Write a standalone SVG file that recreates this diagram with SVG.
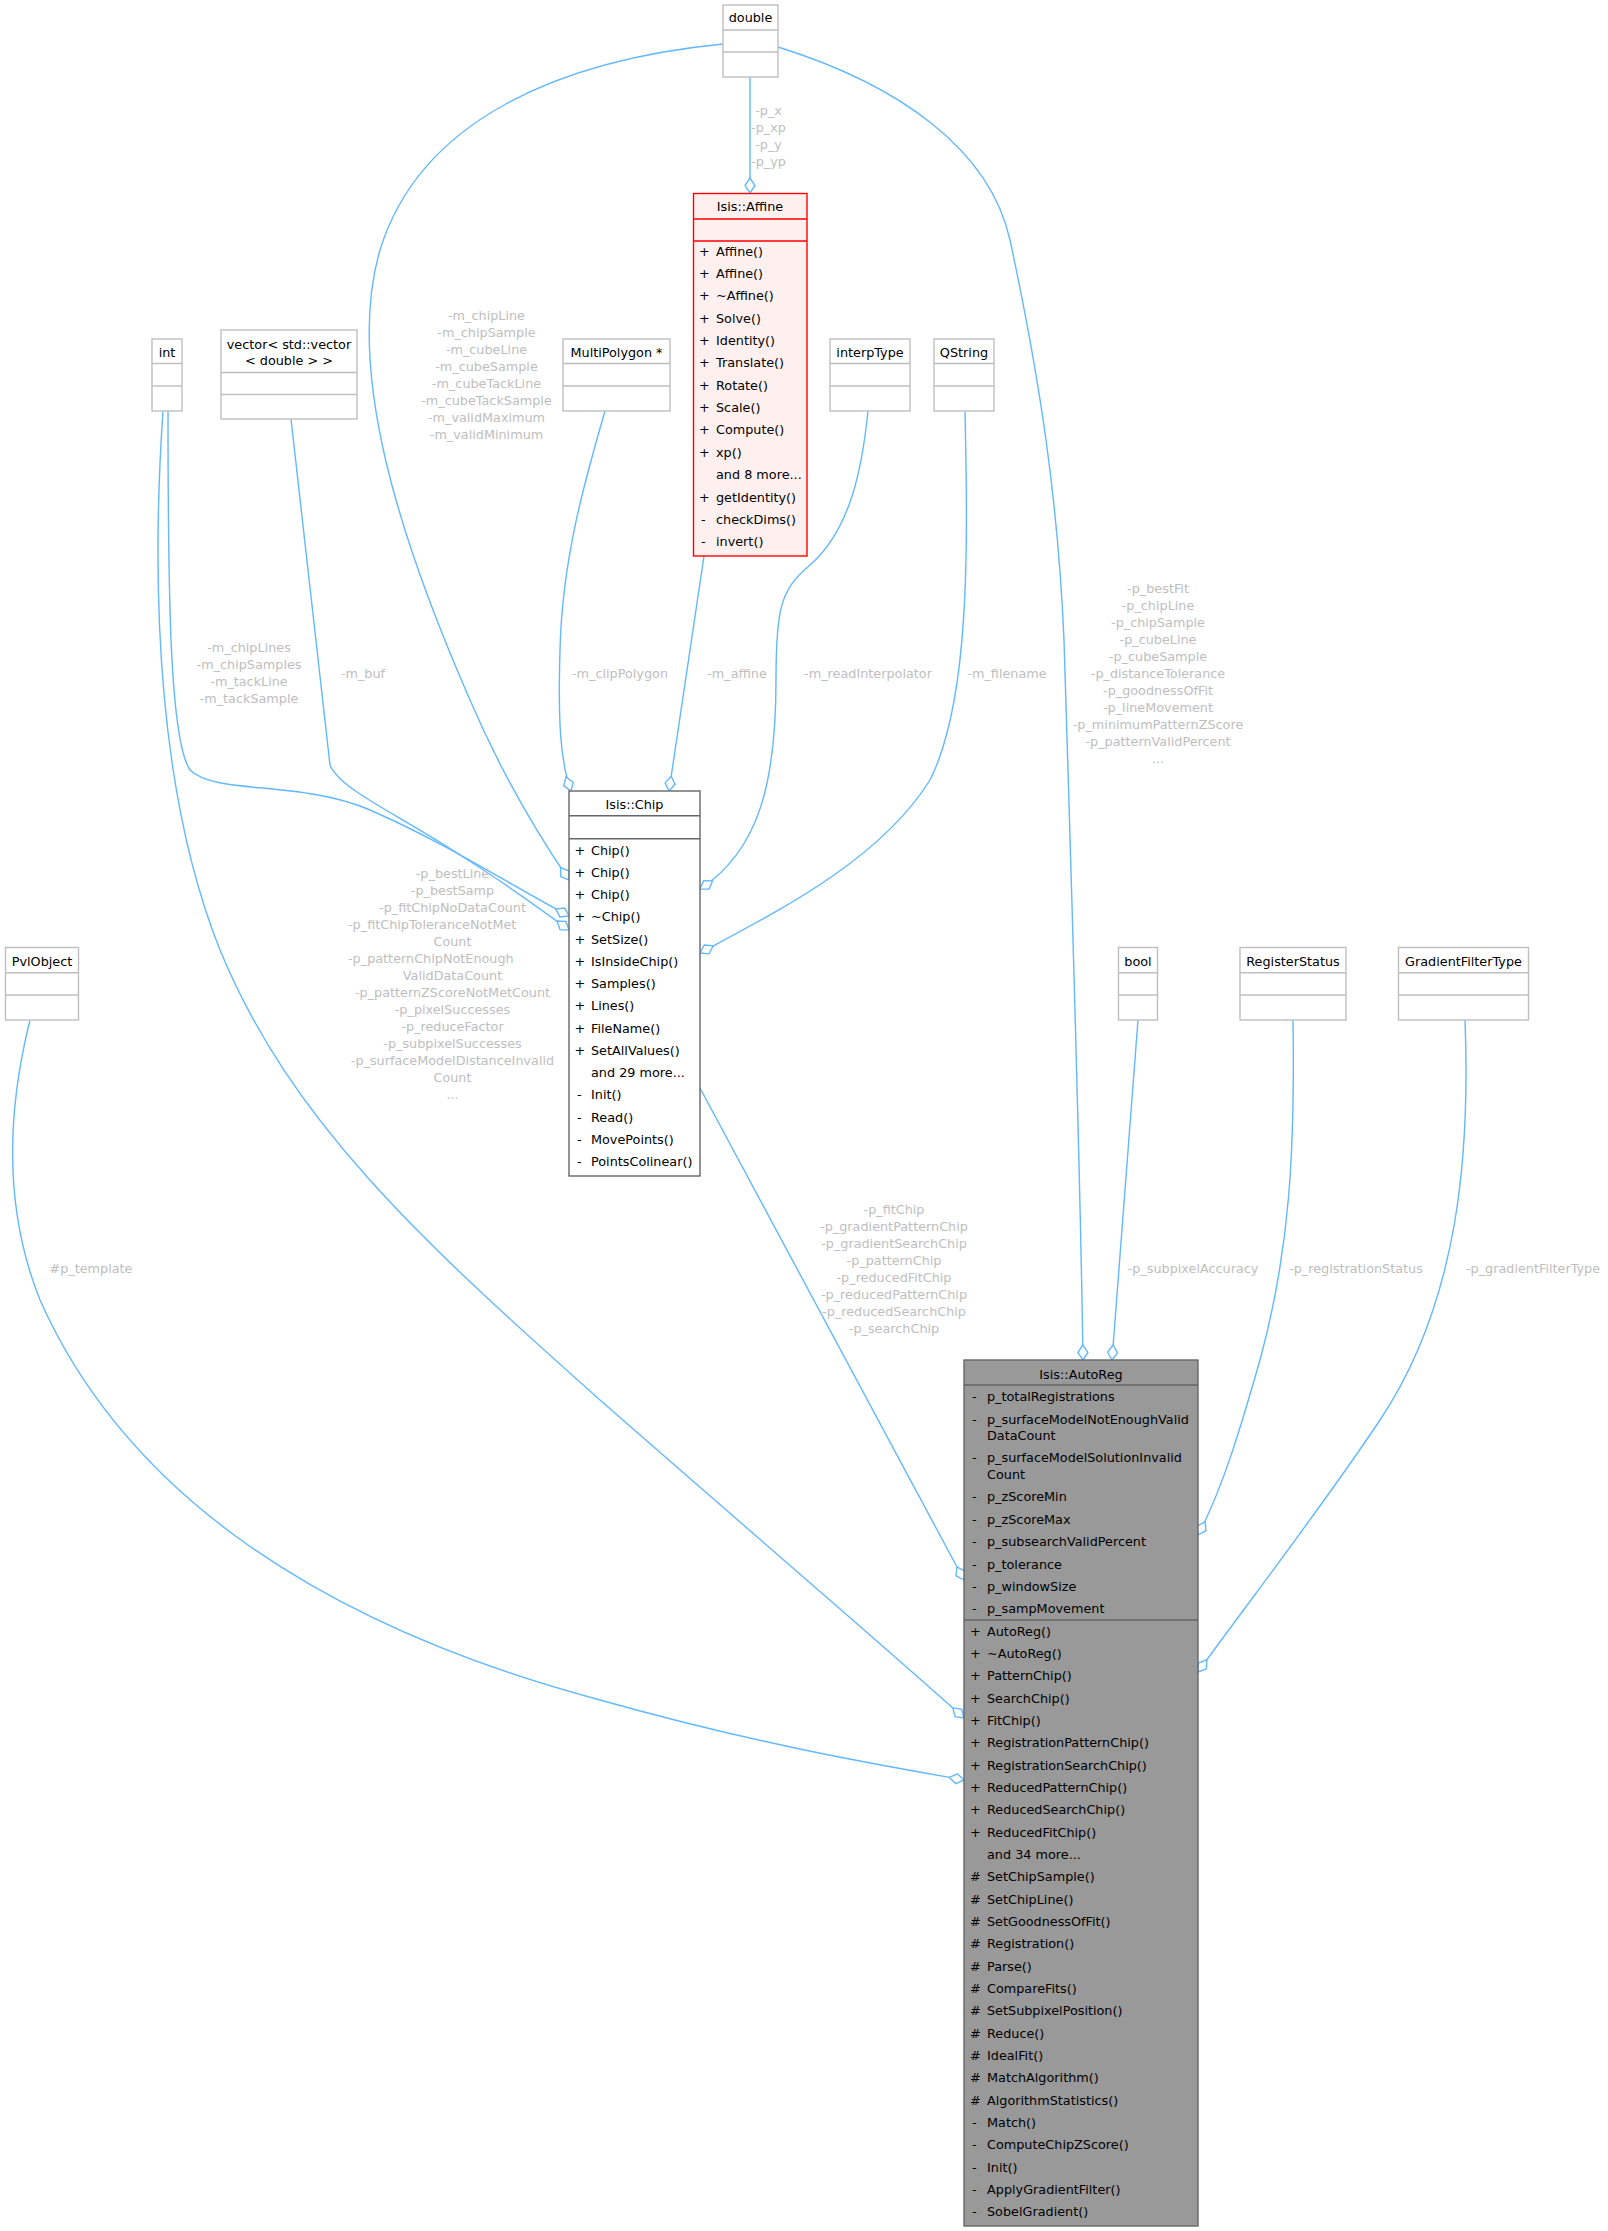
<svg xmlns="http://www.w3.org/2000/svg" width="1608" height="2231" viewBox="0 0 1608 2231">
<style>
text{font-family:"DejaVu Sans","Liberation Sans",sans-serif;font-size:12.8px;fill:#000}
.c{text-anchor:middle}
.lbl{fill:#BEBEBE;text-anchor:middle}
.lbs{fill:#BEBEBE}
.box{fill:#fff;stroke:#BFBFBF;stroke-width:1.4}
.sep{stroke:#BFBFBF;stroke-width:1.4}
.e{fill:none;stroke:#63B8FF;stroke-width:1.4;marker-end:url(#dia)}
</style>
<defs>
<marker id="dia" markerUnits="userSpaceOnUse" markerWidth="20" markerHeight="14" viewBox="-16 -7 18 14" refX="0" refY="0" orient="auto" overflow="visible">
<path d="M0,0 L-7.5,-5 L-15,0 L-7.5,5 Z" fill="#fff" stroke="#63B8FF" stroke-width="1.4"/>
</marker>
</defs>
<rect width="1608" height="2231" fill="#fff"/>

<g id="edges">
<path class="e" d="M750,77 L750,193"/>
<path class="e" d="M723,44 C560,60 420,120 380,250 C345,370 400,540 470,700 C500,770 535,830 569,880"/>
<path class="e" d="M778,47 C900,85 990,150 1010,240 C1040,380 1058,500 1064,640 C1072,900 1080,1150 1083,1360"/>
<path class="e" d="M168,411 C168,600 170,740 190,770 C215,795 300,780 370,810 C450,845 510,885 569,916"/>
<path class="e" d="M163,411 C150,600 160,800 220,950 C290,1120 420,1240 600,1400 C760,1540 900,1660 964,1718"/>
<path class="e" d="M291,419 L330,765 C340,790 400,815 460,855 C500,880 535,905 569,930"/>
<path class="e" d="M605,411 C585,480 562,560 560,650 C558,720 560,760 571,791"/>
<path class="e" d="M704,556 L669,791"/>
<path class="e" d="M868,411 C862,470 850,530 810,565 C780,590 776,610 776,680 C776,780 760,850 700,889"/>
<path class="e" d="M965,411 C968,550 970,700 930,780 C880,860 780,910 700,953"/>
<path class="e" d="M700,1088 L964,1580"/>
<path class="e" d="M1138,1020 L1112,1360"/>
<path class="e" d="M1293,1020 C1295,1150 1290,1250 1260,1360 C1240,1430 1222,1490 1198,1535"/>
<path class="e" d="M1465,1020 C1470,1150 1460,1300 1380,1420 C1320,1510 1250,1600 1198,1672"/>
<path class="e" d="M30,1020 C10,1100 0,1200 40,1300 C120,1480 300,1620 600,1700 C760,1745 880,1765 964,1780"/>

<g id="edge-labels">
<text class="lbl" x="768.5" y="115">-p_x</text>
<text class="lbl" x="768.5" y="132">-p_xp</text>
<text class="lbl" x="768.5" y="149">-p_y</text>
<text class="lbl" x="768.5" y="166">-p_yp</text>

<text class="lbl" x="486.5" y="319.5">-m_chipLine</text>
<text class="lbl" x="486.5" y="336.5">-m_chipSample</text>
<text class="lbl" x="486.5" y="353.5">-m_cubeLine</text>
<text class="lbl" x="486.5" y="370.5">-m_cubeSample</text>
<text class="lbl" x="486.5" y="387.5">-m_cubeTackLine</text>
<text class="lbl" x="486.5" y="404.5">-m_cubeTackSample</text>
<text class="lbl" x="486.5" y="421.5">-m_validMaximum</text>
<text class="lbl" x="486.5" y="438.5">-m_validMinimum</text>

<text class="lbl" x="249" y="651.5">-m_chipLines</text>
<text class="lbl" x="249" y="668.5">-m_chipSamples</text>
<text class="lbl" x="249" y="685.5">-m_tackLine</text>
<text class="lbl" x="249" y="702.5">-m_tackSample</text>

<text class="lbl" x="363" y="677.5">-m_buf</text>
<text class="lbl" x="620" y="677.5">-m_clipPolygon</text>
<text class="lbl" x="737" y="677.5">-m_affine</text>
<text class="lbl" x="868" y="677.5">-m_readInterpolator</text>
<text class="lbl" x="1007" y="677.5">-m_filename</text>

<text class="lbl" x="1158" y="592.5">-p_bestFit</text>
<text class="lbl" x="1158" y="609.5">-p_chipLine</text>
<text class="lbl" x="1158" y="626.5">-p_chipSample</text>
<text class="lbl" x="1158" y="643.5">-p_cubeLine</text>
<text class="lbl" x="1158" y="660.5">-p_cubeSample</text>
<text class="lbl" x="1158" y="677.5">-p_distanceTolerance</text>
<text class="lbl" x="1158" y="694.5">-p_goodnessOfFit</text>
<text class="lbl" x="1158" y="711.5">-p_lineMovement</text>
<text class="lbl" x="1158" y="728.5">-p_minimumPatternZScore</text>
<text class="lbl" x="1158" y="745.5">-p_patternValidPercent</text>
<text class="lbl" x="1158" y="762.5">...</text>

<text class="lbl" x="452.5" y="877.5">-p_bestLine</text>
<text class="lbl" x="452.5" y="894.5">-p_bestSamp</text>
<text class="lbl" x="452.5" y="911.5">-p_fitChipNoDataCount</text>
<text class="lbs" x="348" y="928.5">-p_fitChipToleranceNotMet</text>
<text class="lbl" x="452.5" y="945.5">Count</text>
<text class="lbs" x="348" y="962.5">-p_patternChipNotEnough</text>
<text class="lbl" x="452.5" y="979.5">ValidDataCount</text>
<text class="lbl" x="452.5" y="996.5">-p_patternZScoreNotMetCount</text>
<text class="lbl" x="452.5" y="1013.5">-p_pixelSuccesses</text>
<text class="lbl" x="452.5" y="1030.5">-p_reduceFactor</text>
<text class="lbl" x="452.5" y="1047.5">-p_subpixelSuccesses</text>
<text class="lbl" x="452.5" y="1064.5">-p_surfaceModelDistanceInvalid</text>
<text class="lbl" x="452.5" y="1081.5">Count</text>
<text class="lbl" x="452.5" y="1098.5">...</text>

<text class="lbl" x="894" y="1213.5">-p_fitChip</text>
<text class="lbl" x="894" y="1230.5">-p_gradientPatternChip</text>
<text class="lbl" x="894" y="1247.5">-p_gradientSearchChip</text>
<text class="lbl" x="894" y="1264.5">-p_patternChip</text>
<text class="lbl" x="894" y="1281.5">-p_reducedFitChip</text>
<text class="lbl" x="894" y="1298.5">-p_reducedPatternChip</text>
<text class="lbl" x="894" y="1315.5">-p_reducedSearchChip</text>
<text class="lbl" x="894" y="1332.5">-p_searchChip</text>

<text class="lbl" x="91" y="1272.5">#p_template</text>
<text class="lbl" x="1193" y="1272.5">-p_subpixelAccuracy</text>
<text class="lbl" x="1356" y="1272.5">-p_registrationStatus</text>
<text class="lbl" x="1533" y="1272.5">-p_gradientFilterType</text>
</g>
</g>

<g id="node-double">
<rect class="box" x="723" y="5" width="55" height="72"/>
<line class="sep" x1="723" y1="30" x2="778" y2="30"/>
<line class="sep" x1="723" y1="52" x2="778" y2="52"/>
<text class="c" x="750.5" y="22">double</text>
</g>

<g id="node-int">
<rect class="box" x="152" y="339" width="30" height="72"/>
<line class="sep" x1="152" y1="363.5" x2="182" y2="363.5"/>
<line class="sep" x1="152" y1="386" x2="182" y2="386"/>
<text class="c" x="167" y="357">int</text>
</g>

<g id="node-vector">
<rect class="box" x="221" y="330" width="136" height="89"/>
<line class="sep" x1="221" y1="372.5" x2="357" y2="372.5"/>
<line class="sep" x1="221" y1="394.5" x2="357" y2="394.5"/>
<text class="c" x="289" y="348.5">vector&lt; std::vector</text>
<text class="c" x="289" y="365">&lt; double &gt; &gt;</text>
</g>

<g id="node-multipolygon">
<rect class="box" x="563" y="339" width="107" height="72"/>
<line class="sep" x1="563" y1="363.5" x2="670" y2="363.5"/>
<line class="sep" x1="563" y1="386" x2="670" y2="386"/>
<text class="c" x="616.5" y="357">MultiPolygon *</text>
</g>

<g id="node-interptype">
<rect class="box" x="830" y="339" width="80" height="72"/>
<line class="sep" x1="830" y1="363.5" x2="910" y2="363.5"/>
<line class="sep" x1="830" y1="386" x2="910" y2="386"/>
<text class="c" x="870" y="357">interpType</text>
</g>

<g id="node-qstring">
<rect class="box" x="934" y="339" width="60" height="72"/>
<line class="sep" x1="934" y1="363.5" x2="994" y2="363.5"/>
<line class="sep" x1="934" y1="386" x2="994" y2="386"/>
<text class="c" x="964" y="357">QString</text>
</g>

<g id="node-affine">
<rect x="693.5" y="193.5" width="113.5" height="362.5" fill="#FFF0F0" stroke="#FF0000" stroke-width="1.4"/>
<line x1="693.5" y1="219" x2="807" y2="219" stroke="#FF0000" stroke-width="1.4"/>
<line x1="693.5" y1="241" x2="807" y2="241" stroke="#FF0000" stroke-width="1.4"/>
<text class="c" x="750" y="211">Isis::Affine</text>
<g>
<text x="699" y="255.5">+</text><text x="716" y="255.5">Affine()</text>
<text x="699" y="277.9">+</text><text x="716" y="277.9">Affine()</text>
<text x="699" y="300.2">+</text><text x="716" y="300.2">~Affine()</text>
<text x="699" y="322.6">+</text><text x="716" y="322.6">Solve()</text>
<text x="699" y="344.9">+</text><text x="716" y="344.9">Identity()</text>
<text x="699" y="367.3">+</text><text x="716" y="367.3">Translate()</text>
<text x="699" y="389.7">+</text><text x="716" y="389.7">Rotate()</text>
<text x="699" y="412">+</text><text x="716" y="412">Scale()</text>
<text x="699" y="434.4">+</text><text x="716" y="434.4">Compute()</text>
<text x="699" y="456.7">+</text><text x="716" y="456.7">xp()</text>
<text x="716" y="479.1">and 8 more...</text>
<text x="699" y="501.5">+</text><text x="716" y="501.5">getIdentity()</text>
<text x="701" y="523.8">-</text><text x="716" y="523.8">checkDims()</text>
<text x="701" y="546.2">-</text><text x="716" y="546.2">invert()</text>
</g>
</g>

<g id="node-chip">
<rect x="569" y="791" width="131" height="385" fill="#fff" stroke="#666666" stroke-width="1.4"/>
<line x1="569" y1="815.7" x2="700" y2="815.7" stroke="#666666" stroke-width="1.4"/>
<line x1="569" y1="838.7" x2="700" y2="838.7" stroke="#666666" stroke-width="1.4"/>
<text class="c" x="634.5" y="808.8">Isis::Chip</text>
<text x="574.5" y="854.5">+</text><text x="591" y="854.5">Chip()</text>
<text x="574.5" y="876.8">+</text><text x="591" y="876.8">Chip()</text>
<text x="574.5" y="899">+</text><text x="591" y="899">Chip()</text>
<text x="574.5" y="921.3">+</text><text x="591" y="921.3">~Chip()</text>
<text x="574.5" y="943.5">+</text><text x="591" y="943.5">SetSize()</text>
<text x="574.5" y="965.8">+</text><text x="591" y="965.8">IsInsideChip()</text>
<text x="574.5" y="988.1">+</text><text x="591" y="988.1">Samples()</text>
<text x="574.5" y="1010.3">+</text><text x="591" y="1010.3">Lines()</text>
<text x="574.5" y="1032.6">+</text><text x="591" y="1032.6">FileName()</text>
<text x="574.5" y="1054.8">+</text><text x="591" y="1054.8">SetAllValues()</text>
<text x="591" y="1077.1">and 29 more...</text>
<text x="577" y="1099.4">-</text><text x="591" y="1099.4">Init()</text>
<text x="577" y="1121.6">-</text><text x="591" y="1121.6">Read()</text>
<text x="577" y="1143.9">-</text><text x="591" y="1143.9">MovePoints()</text>
<text x="577" y="1166.2">-</text><text x="591" y="1166.2">PointsColinear()</text>
</g>

<g id="node-pvlobject">
<rect class="box" x="5.5" y="947.5" width="73" height="72.5"/>
<line class="sep" x1="5.5" y1="972.7" x2="78.5" y2="972.7"/>
<line class="sep" x1="5.5" y1="995" x2="78.5" y2="995"/>
<text class="c" x="42" y="965.5">PvlObject</text>
</g>

<g id="node-bool">
<rect class="box" x="1118.5" y="947.5" width="39" height="72.5"/>
<line class="sep" x1="1118.5" y1="972.7" x2="1157.5" y2="972.7"/>
<line class="sep" x1="1118.5" y1="995" x2="1157.5" y2="995"/>
<text class="c" x="1138" y="965.5">bool</text>
</g>

<g id="node-registerstatus">
<rect class="box" x="1240" y="947.5" width="106" height="72.5"/>
<line class="sep" x1="1240" y1="972.7" x2="1346" y2="972.7"/>
<line class="sep" x1="1240" y1="995" x2="1346" y2="995"/>
<text class="c" x="1293" y="965.5">RegisterStatus</text>
</g>

<g id="node-gradientfiltertype">
<rect class="box" x="1398.5" y="947.5" width="130" height="72.5"/>
<line class="sep" x1="1398.5" y1="972.7" x2="1528.5" y2="972.7"/>
<line class="sep" x1="1398.5" y1="995" x2="1528.5" y2="995"/>
<text class="c" x="1463.5" y="965.5">GradientFilterType</text>
</g>

<g id="node-autoreg">
<rect x="964" y="1360" width="234" height="866" fill="#999999" stroke="#666666" stroke-width="1.4"/>
<line x1="964" y1="1385" x2="1198" y2="1385" stroke="#666666" stroke-width="1.4"/>
<line x1="964" y1="1620" x2="1198" y2="1620" stroke="#666666" stroke-width="1.4"/>
<text class="c" x="1081" y="1378.5">Isis::AutoReg</text>
<text x="972" y="1400.5">-</text><text x="987" y="1400.5">p_totalRegistrations</text>
<text x="972" y="1423.5">-</text><text x="987" y="1423.5">p_surfaceModelNotEnoughValid</text>
<text x="987" y="1440.2">DataCount</text>
<text x="972" y="1462.2">-</text><text x="987" y="1462.2">p_surfaceModelSolutionInvalid</text>
<text x="987" y="1479.2">Count</text>
<text x="972" y="1501.2">-</text><text x="987" y="1501.2">p_zScoreMin</text>
<text x="972" y="1523.8">-</text><text x="987" y="1523.8">p_zScoreMax</text>
<text x="972" y="1546.2">-</text><text x="987" y="1546.2">p_subsearchValidPercent</text>
<text x="972" y="1568.5">-</text><text x="987" y="1568.5">p_tolerance</text>
<text x="972" y="1590.8">-</text><text x="987" y="1590.8">p_windowSize</text>
<text x="972" y="1613.2">-</text><text x="987" y="1613.2">p_sampMovement</text>
<text x="970" y="1635.5">+</text><text x="987" y="1635.5">AutoReg()</text>
<text x="970" y="1657.8">+</text><text x="987" y="1657.8">~AutoReg()</text>
<text x="970" y="1680.2">+</text><text x="987" y="1680.2">PatternChip()</text>
<text x="970" y="1702.5">+</text><text x="987" y="1702.5">SearchChip()</text>
<text x="970" y="1724.8">+</text><text x="987" y="1724.8">FitChip()</text>
<text x="970" y="1747.2">+</text><text x="987" y="1747.2">RegistrationPatternChip()</text>
<text x="970" y="1769.5">+</text><text x="987" y="1769.5">RegistrationSearchChip()</text>
<text x="970" y="1791.8">+</text><text x="987" y="1791.8">ReducedPatternChip()</text>
<text x="970" y="1814.1">+</text><text x="987" y="1814.1">ReducedSearchChip()</text>
<text x="970" y="1836.5">+</text><text x="987" y="1836.5">ReducedFitChip()</text>
<text x="987" y="1858.8">and 34 more...</text>
<text x="970" y="1881.1">#</text><text x="987" y="1881.1">SetChipSample()</text>
<text x="970" y="1903.5">#</text><text x="987" y="1903.5">SetChipLine()</text>
<text x="970" y="1925.8">#</text><text x="987" y="1925.8">SetGoodnessOfFit()</text>
<text x="970" y="1948.1">#</text><text x="987" y="1948.1">Registration()</text>
<text x="970" y="1970.5">#</text><text x="987" y="1970.5">Parse()</text>
<text x="970" y="1992.8">#</text><text x="987" y="1992.8">CompareFits()</text>
<text x="970" y="2015.1">#</text><text x="987" y="2015.1">SetSubpixelPosition()</text>
<text x="970" y="2037.5">#</text><text x="987" y="2037.5">Reduce()</text>
<text x="970" y="2059.8">#</text><text x="987" y="2059.8">IdealFit()</text>
<text x="970" y="2082.1">#</text><text x="987" y="2082.1">MatchAlgorithm()</text>
<text x="970" y="2104.5">#</text><text x="987" y="2104.5">AlgorithmStatistics()</text>
<text x="972" y="2126.8">-</text><text x="987" y="2126.8">Match()</text>
<text x="972" y="2149.1">-</text><text x="987" y="2149.1">ComputeChipZScore()</text>
<text x="972" y="2171.5">-</text><text x="987" y="2171.5">Init()</text>
<text x="972" y="2193.8">-</text><text x="987" y="2193.8">ApplyGradientFilter()</text>
<text x="972" y="2216.1">-</text><text x="987" y="2216.1">SobelGradient()</text>
</g>
</svg>
